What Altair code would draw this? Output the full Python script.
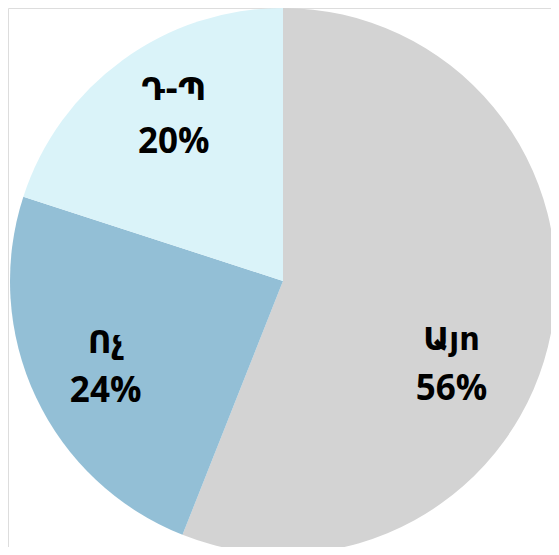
import altair as alt
import pandas as pd

categories = ["Այո", "Ոչ", "Դ-Պ"]
values = [56, 24, 20]
colors = ["#d3d3d3", "#93bfd6", "#daf3f9"]

df = pd.DataFrame({"cat": categories, "val": values, "order": list(range(len(categories)))})
df["pct"] = df["val"].astype(str) + "%"

CX, CY, R = 275, 273, 273
theta_scale = alt.Scale(domain=[0, 100])

base = alt.Chart(df)

arcs = base.mark_arc(radius=R).encode(
    theta=alt.Theta("val:Q", stack=True, scale=theta_scale),
    order=alt.Order("order:Q"),
    color=alt.Color("cat:N", scale=alt.Scale(domain=categories, range=colors), legend=None),
    x=alt.value(CX),
    y=alt.value(CY),
)

lab = base.transform_window(
    cum="sum(val)", sort=[alt.SortField("order")], frame=[None, 0]
).transform_calculate(mid="datum.cum - datum.val / 2")

enc = dict(
    theta=alt.Theta("mid:Q", stack=False, scale=theta_scale),
    x=alt.value(CX),
    y=alt.value(CY),
)

name_style = dict(font="DejaVu Sans", fontSize=32, fontWeight="bold", color="#000000",
                  align="center", baseline="alphabetic", radius=196)
pct_style = dict(font="Open Sans", fontSize=35, fontWeight="bold", color="#000000",
                 align="center", baseline="alphabetic", radius=196)

# label nudges (dx, name dy, percent dy) per slice
nudges = [(-24, 32, 82), (0, -11, 38), (6, -22, 31)]

layers = [arcs]
for i, (ndx, ndy, pdy) in enumerate(nudges):
    sub = lab.transform_filter(alt.datum.order == i)
    layers.append(sub.mark_text(dx=ndx, dy=ndy, **name_style).encode(text="cat:N", **enc))
    layers.append(sub.mark_text(dx=ndx, dy=pdy, **pct_style).encode(text="pct:N", **enc))

chart = alt.layer(*layers).properties(
    width=543, height=539, padding=0, autosize=alt.AutoSizeParams(type="none")
).configure_view(stroke=None).configure(background="#ffffff")

chart.save("out.html", embed_options={"renderer": "svg", "actions": False})
